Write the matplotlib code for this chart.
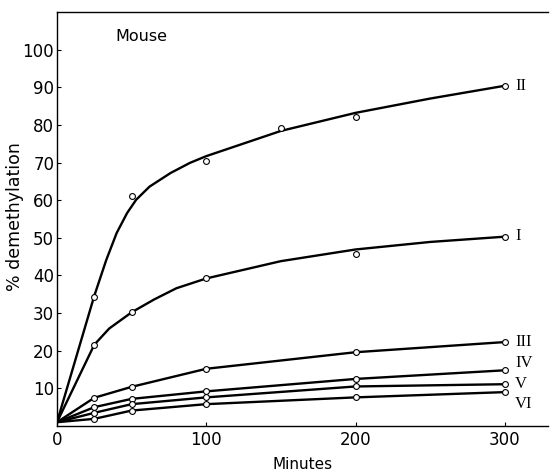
import numpy as np
import matplotlib
matplotlib.use("Agg")
import matplotlib.pyplot as plt

# czasy pomiarow (minuty)
czas = [0, 25, 50, 100, 200, 300]
czas_II = [0, 25, 50, 100, 150, 200, 300]

# punkty pomiarowe (% demetylacji)
pkt_II = [1, 34.3, 61.2, 70.4, 79.3, 82.2, 90.4]
pkt_I = [1, 21.6, 30.2, 39.2, 45.7, 50.3]
pkt_III = [1, 7.5, 10.4, 15.2, 19.6, 22.3]
pkt_IV = [1, 5.0, 7.2, 9.2, 12.5, 14.8]
pkt_V = [1, 3.5, 5.8, 7.6, 10.5, 11.1]
pkt_VI = [1, 1.9, 4.1, 5.8, 7.6, 9.0]

# krzywe wygladzone
krz_czas_II = [0, 25, 33, 40, 47, 53, 62, 76, 89, 100, 150, 200, 250, 300]
krz_II = [1, 34.6, 44.1, 51.3, 56.6, 60.1, 63.6, 67.2, 69.9, 71.7, 78.4, 83.2, 87.0, 90.4]
krz_czas_I = [0, 25, 35, 50, 65, 80, 100, 150, 200, 250, 300]
krz_I = [1, 21.6, 25.9, 30.2, 33.6, 36.6, 39.2, 43.8, 46.9, 48.9, 50.3]

etykiety = ['II', 'I', 'III', 'IV', 'V', 'VI']
poz_etykiet = [90.4, 50.5, 22.3, 16.8, 11.2, 5.9]

fig = plt.figure(figsize=(5.5, 4.74), dpi=100)
ax = fig.add_axes([0.1036, 0.1013, 0.893, 0.8734])

styl = dict(color='black', lw=1.7, solid_capstyle='round', solid_joinstyle='round')
mk = dict(ls='none', marker='o', ms=4.2, mfc='white', mec='black', mew=0.8)

ax.plot(krz_czas_II, krz_II, **styl)
ax.plot(krz_czas_I, krz_I, **styl)
for y in [pkt_III, pkt_IV, pkt_V, pkt_VI]:
    ax.plot(czas, y, **styl)

ax.plot(czas_II[1:], pkt_II[1:], **mk)
for y in [pkt_I, pkt_III, pkt_IV, pkt_V, pkt_VI]:
    ax.plot(czas[1:], y[1:], **mk)

# etykiety krzywych na koncu
for txt, y in zip(etykiety, poz_etykiet):
    ax.text(307, y, txt, family='Liberation Serif', fontsize=12, va='center', ha='left')

ax.text(39, 103.5, 'Mouse', fontsize=11.5, va='center', ha='left')

ax.set_xlim(0, 329)
ax.set_ylim(0, 110)
ax.set_xticks([0, 100, 200, 300])
ax.set_yticks(range(10, 101, 10))
ax.tick_params(direction='in', length=3, labelsize=12, width=0.8)
ax.tick_params(axis='y', pad=2)
ax.spines['right'].set_visible(False)
for s in ['left', 'top', 'bottom']:
    ax.spines[s].set_linewidth(1.0)
ax.set_xlabel('Minutes', fontsize=11)
ax.set_ylabel('% demethylation', fontsize=12.5)
ax.xaxis.set_label_coords(0.499, -0.094)
ax.yaxis.set_label_coords(-0.0855, 0.505)
ax.xaxis.label.set_va('center')
ax.yaxis.label.set_va('center')

fig.savefig('out.png', dpi=100)
